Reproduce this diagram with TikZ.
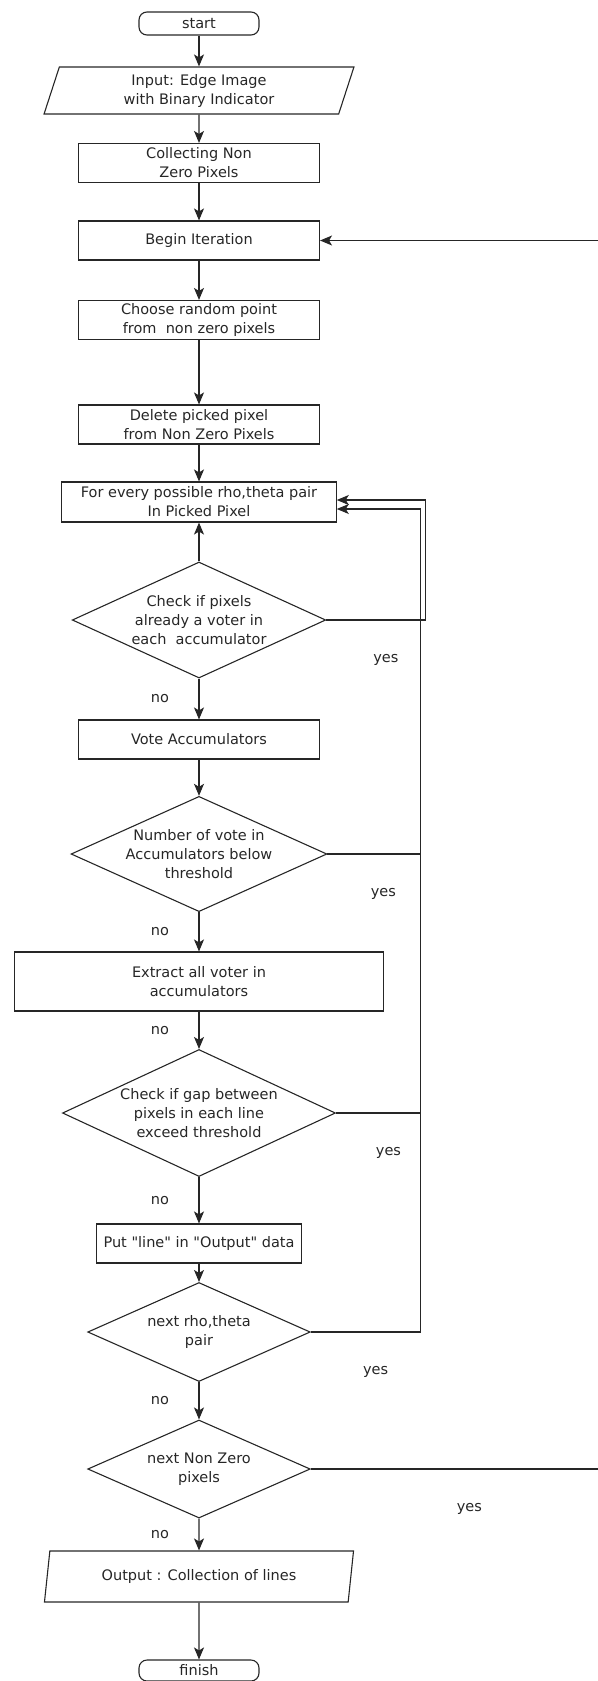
\documentclass[tikz,border=0pt]{standalone}
\usepackage{fontspec}
\setmainfont{DejaVu Sans}
\usetikzlibrary{shapes.geometric,arrows.meta}

\begin{document}
\begin{tikzpicture}[
        x=1pt, y=-1pt,
        color=black!85,
        font=\fontsize{14.5}{19}\selectfont,
        line width=1.1pt,
        block/.style={
            draw, 
            minimum width=241pt, 
            minimum height=39pt, 
            inner sep=0pt, 
            align=center
        },
        term/.style={
            draw, 
            rounded corners=8pt, 
            minimum width=120pt, 
            minimum height=23pt, 
            inner sep=0pt
        },
        io/.style={
            draw, 
            trapezium, 
            trapezium left angle=76, 
            trapezium right angle=104, 
            trapezium stretches=true, 
            minimum width=310pt, 
            minimum height=47pt, 
            inner sep=0pt, 
            align=center
        },
        decision/.style={
            draw, 
            diamond, 
            inner sep=0pt, 
            align=center
        },
        flow/.style={
            -{Stealth[length=12pt, width=10pt, inset=3pt]}
        },
        nolbl/.style={midway, xshift=-39pt},
        yeslbl/.style={yshift=-40pt}
    ]
        \useasboundingbox (0,0) rectangle (597,1681);

        % --- 1. Start and input ---
        \node[term] (start) at (199,23.5) {start};
        \node[io, node distance=67pt, below of=start] (input) {
            Input: Edge Image\\
            with Binary Indicator
        };
        \node[block, node distance=72.5pt, below of=input] (collect) {
            Collecting Non\\
            Zero Pixels
        };

        % --- 2. Outer loop over the non zero pixels ---
        \node[block, node distance=77.5pt, below of=collect] (begin) {Begin Iteration};
        \node[block, node distance=79.5pt, below of=begin] (choose) {
            Choose random point\\
            from\ \ non zero pixels
        };
        \node[block, node distance=104.5pt, below of=choose] (delete) {
            Delete picked pixel\\
            from Non Zero Pixels
        };

        % --- 3. Inner loop over rho,theta ---
        \node[block, minimum width=274.5pt, minimum height=40pt, node distance=77.5pt, below of=delete] (forevery) {
            For every possible rho,theta pair\\
            In Picked Pixel
        };
        \node[decision, minimum width=253.5pt, minimum height=116pt, aspect=2.19, node distance=118pt, below of=forevery] (voter) {
            Check if pixels\\
            already a voter in\\
            each\ \ accumulator
        };
        \node[block, node distance=119.5pt, below of=voter] (vote) {Vote Accumulators};
        \node[decision, minimum width=253.5pt, minimum height=114pt, aspect=2.22, node distance=114.5pt, below of=vote] (below) {
            Number of vote in\\
            Accumulators below\\
            threshold
        };
        \node[block, minimum width=368.5pt, minimum height=59pt, node distance=127.5pt, below of=below] (extract) {
            Extract all voter in\\
            accumulators
        };
        \node[decision, minimum width=273pt, minimum height=127pt, aspect=2.15, node distance=131.5pt, below of=extract] (gap) {
            Check if gap between\\
            pixels in each line\\
            exceed threshold
        };
        \node[block, minimum width=205.5pt, node distance=130.5pt, below of=gap] (putline) {Put \textquotedbl line\textquotedbl{} in \textquotedbl Output\textquotedbl{} data};
        \node[decision, minimum width=222.5pt, minimum height=99pt, aspect=2.25, node distance=88.5pt, below of=putline] (nextpair) {
            next rho,theta\\
            pair
        };

        % --- 4. End of the outer loop and output ---
        \node[decision, minimum width=222.5pt, minimum height=98pt, aspect=2.27, node distance=137pt, below of=nextpair] (nextpix) {
            next Non Zero\\
            pixels
        };
        \node[io, minimum height=51pt, node distance=107.5pt, below of=nextpix] (output) {Output : Collection of lines};
        \node[term, minimum height=21pt, node distance=94pt, below of=output] (finish) {finish};

        % --- Rails of the feedback lines ---
        \coordinate (railout) at (425.6,0);
        \coordinate (railin) at (420.6,0);
        \coordinate (railedge) at (599,0);

        % --- Main flow ---
        \draw[flow] (start) -- (input);
        \draw[flow] (input) -- (collect);
        \draw[flow] (collect) -- (begin);
        \draw[flow] (begin) -- (choose);
        \draw[flow] (choose) -- (delete);
        \draw[flow] (delete) -- (forevery);
        \draw[flow] (voter) -- (forevery);
        \draw[flow] (voter) -- node[nolbl] {no} (vote);
        \draw[flow] (vote) -- (below);
        \draw[flow] (below) -- node[nolbl] {no} (extract);
        \draw[flow] (extract) -- node[nolbl] {no} (gap);
        \draw[flow] (gap) -- node[nolbl] {no} (putline);
        \draw[flow] (putline) -- (nextpair);
        \draw[flow] (nextpair) -- node[nolbl] {no} (nextpix);
        \draw[flow] (nextpix) -- node[nolbl] {no} (output);
        \draw[flow] (output) -- (finish);

        % --- Feedback lines ("yes") ---
        \draw[flow] (voter.east) -- node[yeslbl, pos=0.6] {yes} (voter.east -| railout) |- ([yshift=2pt]forevery.east);
        \draw (below.east) -- node[yeslbl, pos=0.6] {yes} (below.east -| railin);
        \draw (gap.east) -- node[yeslbl, pos=0.62] {yes} (gap.east -| railin);
        \draw[flow] (nextpair.east) -- node[yeslbl, pos=0.59] {yes} (nextpair.east -| railin) |- ([yshift=-7pt]forevery.east);
        \draw[flow] (nextpix.east) -- node[yeslbl, pos=0.55] {yes} (nextpix.east -| railedge) |- (begin.east);
    \end{tikzpicture}
\end{document}
